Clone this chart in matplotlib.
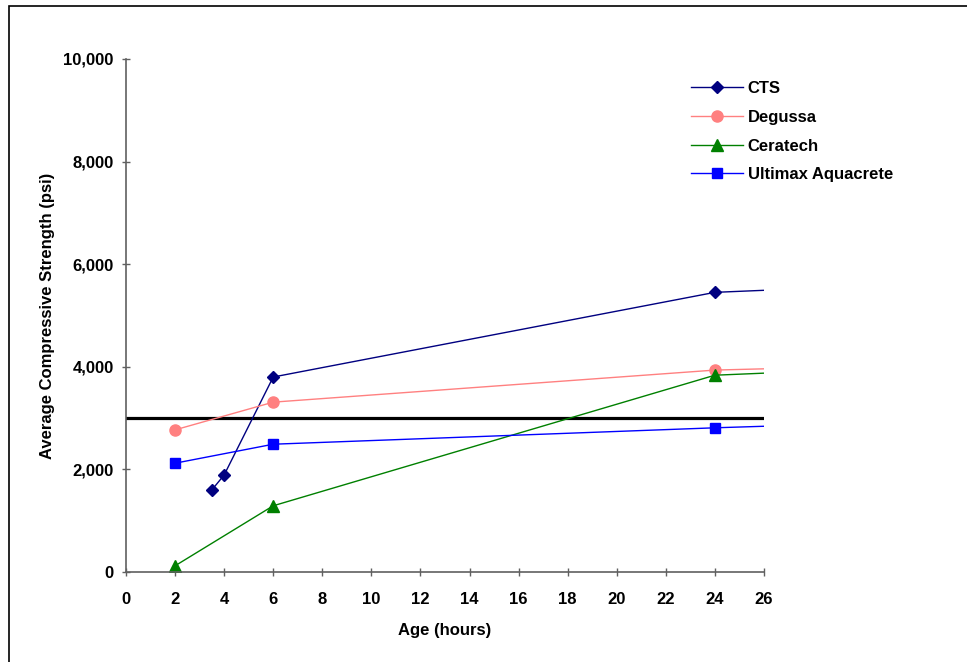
import matplotlib.pyplot as plt
from matplotlib.patches import Rectangle
from matplotlib.ticker import FuncFormatter

plt.rcParams['font.family'] = ['Liberation Sans', 'DejaVu Sans']

# data (hours, psi); last point lies beyond the axis
cts_x = [3.5, 4, 6, 24, 168]
cts_y = [1600, 1890, 3800, 5450, 8330]
degussa_x = [2, 6, 24, 168]
degussa_y = [2770, 3310, 3935, 5700]
ceratech_x = [2, 6, 24, 168]
ceratech_y = [120, 1290, 3835, 6720]
ultimax_x = [2, 6, 24, 168]
ultimax_y = [2120, 2490, 2810, 4970]
target_psi = 3000

fig = plt.figure(figsize=(9.67, 6.62), dpi=100)
ax = fig.add_axes([0.1303, 0.136, 0.6597, 0.775])

# figure border (top and left edges are visible in the original)
fig.patches.append(Rectangle((9 / 967, -0.1), 1.2, 1 - 6 / 662 + 0.1,
                             transform=fig.transFigure, fill=False,
                             edgecolor='black', lw=1.2))

ax.axhline(target_psi, color='black', lw=2.3, zorder=1)
ax.plot(cts_x, cts_y, color='#000080', lw=1, marker='D', ms=6.5, label='CTS')
ax.plot(degussa_x, degussa_y, color='#FF8080', lw=1, marker='o', ms=8, label='Degussa')
ax.plot(ceratech_x, ceratech_y, color='#008000', lw=1, marker='^', ms=8.5, label='Ceratech')
ax.plot(ultimax_x, ultimax_y, color='#0000FF', lw=1, marker='s', ms=7.5, label='Ultimax Aquacrete')

ax.set_xlim(0, 26)
ax.set_ylim(0, 10000)
ax.set_xticks(range(0, 27, 2))
ax.set_yticks(range(0, 10001, 2000))
ax.yaxis.set_major_formatter(FuncFormatter(lambda v, p: f'{int(v):,}'))

for s in ['top', 'right']:
    ax.spines[s].set_visible(False)
for s in ['left', 'bottom']:
    ax.spines[s].set_color('#606060')
    ax.spines[s].set_linewidth(1.2)
ax.tick_params(direction='inout', length=5.5, width=1, color='#606060',
               labelsize=12)
ax.tick_params(axis='x', pad=12)
ax.tick_params(axis='y', pad=6)
for lab in ax.get_xticklabels() + ax.get_yticklabels():
    lab.set_fontweight('bold')

ax.set_xlabel('Age (hours)', fontsize=12, fontweight='bold', labelpad=11)
ax.set_ylabel('Average Compressive Strength (psi)', fontsize=12,
              fontweight='bold', labelpad=6)

leg = ax.legend(loc='upper left', bbox_to_anchor=(0.699, 0.9),
                bbox_transform=fig.transFigure, frameon=False,
                prop={'weight': 'bold', 'size': 12}, handlelength=3.1,
                handletextpad=0.3, labelspacing=0.82)

fig.savefig('out.png', dpi=100)
